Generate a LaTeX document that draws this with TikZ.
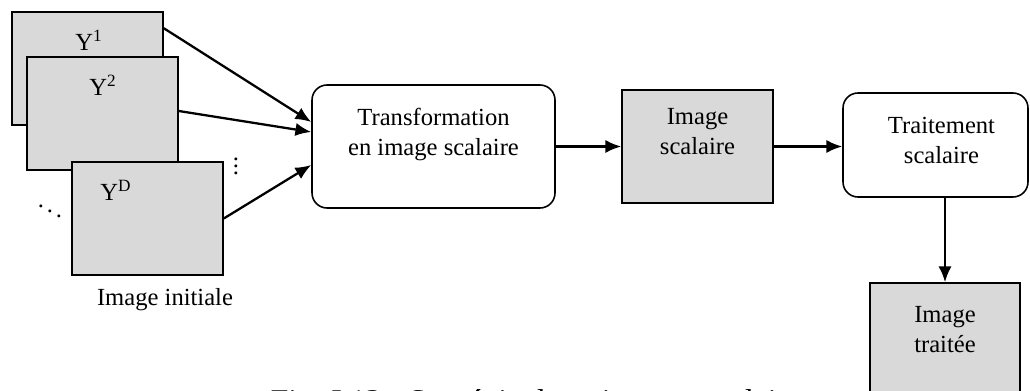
\documentclass[tikz,border=0pt]{standalone}
\usepackage{fontspec}
\setmainfont{Liberation Serif}
\usetikzlibrary{arrows.meta,positioning,calc}
\definecolor{boxgray}{RGB}{217,217,217}

\begin{document}
\begin{tikzpicture}[x=0.02cm,y=-0.02cm,font=\fontsize{14}{17}\selectfont,
  imgbox/.style={draw,line width=0.9pt,fill=boxgray,minimum width=3.02cm,minimum height=2.26cm,inner sep=0pt},
  procbox/.style={draw,line width=0.9pt,fill=white,rounded corners=0.3cm,inner sep=0pt},
  flow/.style={line width=1.3pt,-{Latex[length=9pt,width=7.5pt]}},
  boxtext/.style={align=center,anchor=north,inner sep=0pt}]

\useasboundingbox (0,0) rectangle (1030,391);
\clip (0,0) rectangle (1030,391);

%%%%%%%%%%%%%%%%%%%%%% IMAGE INITIALE

\node[imgbox] (y1) at (87.5,68.5) {};
\node[inner sep=0pt] (y1lab) at (89,40) {Y\textsuperscript{1}};
\node[imgbox] (y2) at (102.5,113.5) {};
\node[inner sep=0pt] (y2lab) at (103,85) {Y\textsuperscript{2}};
\node[imgbox] (yD) at (147.5,218.5) {};
\node[inner sep=0pt] (yDlab) at (116,190) {Y\textsuperscript{D}};

\node[inner sep=0pt] (vdots) at (236,161) {$\vdots$};
\node[inner sep=0pt] (ddots) at (50,206) {$\ddots$};

\node (init) at (165,300) {Image initiale};

%%%%%%%%%%%%%%%%%%%%%% TRANSFORMATION

\node[procbox,minimum width=4.86cm,minimum height=2.46cm] (trans) at (433.5,146.5) {};
\node[boxtext] (transtxt) at ($(trans.north)+(0,24)$) {Transformation\\en image scalaire};

\draw[flow] ($(y1.north east)+(0,17)$) -- ($(trans.west)+(0,-24.5)$);
\draw[flow] ($(y2.east)+(0,-2.5)$) -- ($(trans.west)+(0,-14.5)$);
\draw[flow] ($(yD.east)+(0,0)$) -- ($(trans.west)+(0,18.5)$);

%%%%%%%%%%%%%%%%%%%%%% IMAGE SCALAIRE

\node[imgbox] (scal) at (697.5,146.5) {};
\node[boxtext] (scaltxt) at ($(scal.north)+(0,19)$) {Image\\scalaire};
\draw[flow] (trans.east) -- (scal.west);

%%%%%%%%%%%%%%%%%%%%%% TRAITEMENT

\node[procbox,minimum width=3.7cm,minimum height=2.08cm] (trait) at (935.5,145) {};
\node[boxtext] (traittxt) at ($(trait.north)+(6,25)$) {Traitement\\scalaire};
\draw[flow] (scal.east) -- (scal.east -| trait.west);

\node[imgbox,minimum width=3cm] (fin) at (945,339.5) {};
\node[boxtext] (fintxt) at ($(fin.north)+(0,24)$) {Image\\traitée};
\draw[flow] (trait.south -| fin.north) -- (fin.north);

%%%%%%%%%%%%%%%%%%%%%% CAPTION

\node[anchor=base,inner sep=0pt,font=\fontsize{18}{20}\selectfont] (caption) at (536,411) {Fig. I.13 : Stratégie du traitement scalaire};

\end{tikzpicture}
\end{document}
